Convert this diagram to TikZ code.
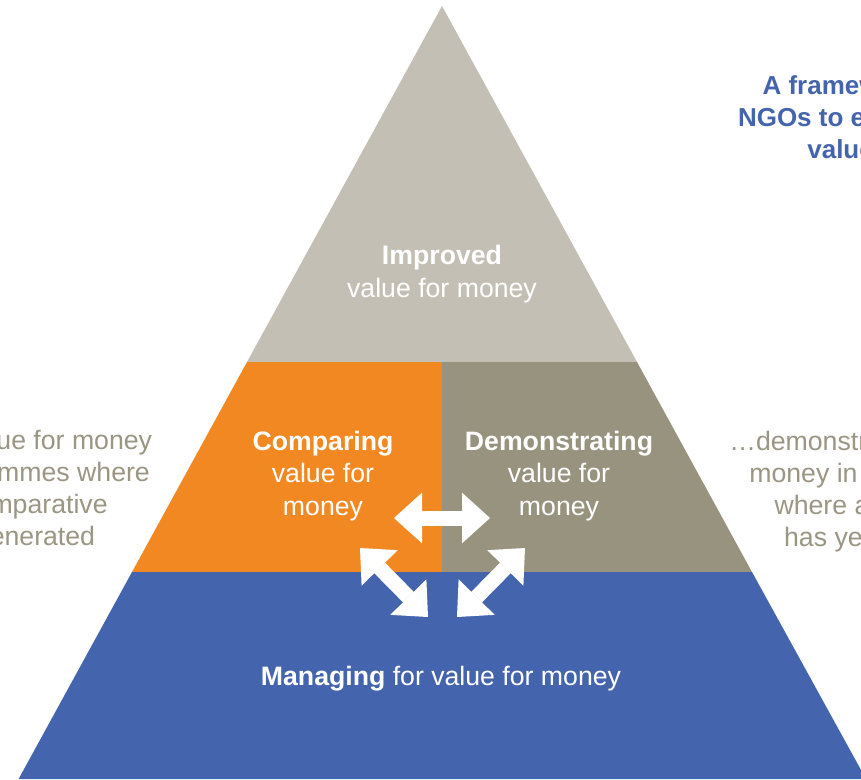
\documentclass[tikz,border=0pt]{standalone}
\usepackage{fontspec}
\setmainfont{Liberation Sans}
\usepackage{tikz}
\usepackage{xcolor}
\usetikzlibrary{arrows.meta}

\definecolor{topgrey}{RGB}{195,191,180}
\definecolor{vfmorange}{RGB}{242,136,34}
\definecolor{midgrey}{RGB}{151,147,127}
\definecolor{vfmblue}{RGB}{68,100,174}
\definecolor{sidegrey}{RGB}{154,150,131}

\tikzset{
  blocktext/.style={text=white, align=center, inner sep=0.75pt, font=\fontsize{20}{24.5}\selectfont},
  sidetext/.style={text=sidegrey, align=center, inner sep=0.75pt, font=\fontsize{20}{24}\selectfont},
  twoway/.style={draw=white, line width=11.25pt, <->,
    >={Triangle[length=21pt,width=38pt,line width=0pt]}},
}

\begin{document}
\begin{tikzpicture}[x=0.75pt,y=0.75pt,yscale=-1,xscale=1]
\clip (0,0) rectangle (861,779);
\fill [white] (0,0) rectangle (861,779);

%Shape: top triangle
\fill [topgrey] (442,6) -- (637,362) -- (247,362) -- cycle ;
%Shape: middle band, left half
\fill [vfmorange] (247,362) -- (442,362) -- (442,572) -- (132,572) -- cycle ;
%Shape: middle band, right half
\fill [midgrey] (442,362) -- (637,362) -- (752,572) -- (442,572) -- cycle ;
%Shape: bottom band
\fill [vfmblue] (132,572) -- (752,572) -- (866,779) -- (18.6,779) -- cycle ;

% Text Node
\draw (442,274) node [blocktext] (improved) {\textbf{Improved}\\value for money};
% Text Node
\draw (323,476) node [blocktext] (comparing) {\textbf{Comparing}\\value for\\money};
% Text Node
\draw (559,476) node [blocktext] (demonstrating) {\textbf{Demonstrating}\\value for\\money};
% Text Node
\draw (441,679) node [blocktext] (managing) {\textbf{Managing} for value for money};

% Text Node
\draw (35,491) node [sidetext] (lefttext) {the value for money\\programmes where\\comparative\\generated};
% Text Node
\draw (882,492) node [sidetext] (righttext) {\dots demonstrating value for\\money in programmes\\where a reference\\has yet to be set};
% Text Node
\draw (1008,120) node [anchor=east, align=right, inner sep=0.75pt, text=vfmblue, font=\bfseries\fontsize{19.5}{24}\selectfont] (title) {A framework for UK\\NGOs to explore their\\value for money};

%Arrows between the blocks
\coordinate (swapL) at (394,518);
\coordinate (swapR) at (490,518);
\coordinate (cmpTop) at (360,548);
\coordinate (cmpBot) at (428,617);
\coordinate (demBot) at (457,617);
\coordinate (demTop) at (525,548);
\draw [twoway] (swapL) -- (swapR);
\draw [twoway] (cmpTop) -- (cmpBot);
\draw [twoway] (demBot) -- (demTop);

\end{tikzpicture}
\end{document}
